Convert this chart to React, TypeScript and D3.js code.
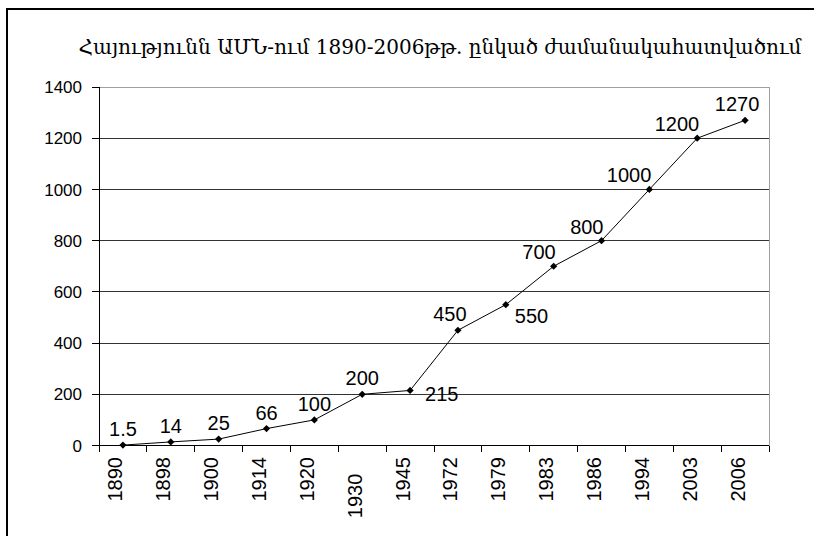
import React from "react";
import * as d3 from "d3";

const title = "Հայությունն ԱՄՆ-ում 1890-2006թթ. ընկած ժամանակահատվածում";
const categories = ["1890", "1898", "1900", "1914", "1920", "1930   ", "1945", "1972", "1979", "1983", "1986", "1994", "2003", "2006"];
const values = [1.5, 14, 25, 66, 100, 200, 215, 450, 550, 700, 800, 1000, 1200, 1270];
const yTicks = [0, 200, 400, 600, 800, 1000, 1200, 1400];
const labelPlacement = ["top", "top", "top", "top", "top", "top", "right", "topLeft", "bottomRight", "left", "left", "left", "left", "topLeft"];

const W = 814;
const H = 536;
const plot = { left: 99, right: 769, top: 87, bottom: 445.5 };

const placements: Record<string, { anchor: string; dx: number; dy: number }> = {
  top: { anchor: "middle", dx: 0, dy: -9 },
  topLeft: { anchor: "middle", dx: -8, dy: -9 },
  left: { anchor: "end", dx: 2, dy: -7 },
  right: { anchor: "start", dx: 15, dy: 11 },
  bottomRight: { anchor: "start", dx: 9, dy: 18 },
};

const NUM_FONT = "'Liberation Sans', Arial, sans-serif";

export default function App() {
  const x = d3.scaleBand<string>().domain(categories).range([plot.left, plot.right]).padding(0);
  const y = d3.scaleLinear().domain([0, 1400]).range([plot.bottom, plot.top]);
  const cx = (i: number) => (x(categories[i]) as number) + x.bandwidth() / 2;

  const line = d3
    .line<number>()
    .x((_, i) => cx(i))
    .y((d) => y(d));

  const diamond = d3.symbol().type(d3.symbolSquare).size(26)();

  const boundaries = d3.range(categories.length + 1).map((i) =>
    i < categories.length ? (x(categories[i]) as number) : plot.right
  );

  return (
    <svg
      width={W}
      height={H}
      style={{ position: "absolute", left: 0, top: 0, display: "block", background: "#fff" }}
    >
      <rect x={0} y={0} width={W} height={H} fill="#fff" />
      {/* outer frame */}
      <rect x={7} y={9} width={W + 20} height={H + 20} fill="none" stroke="#000" strokeWidth={2} />

      {/* title */}
      <text
        x={440}
        y={54}
        textAnchor="middle"
        fontFamily="'DejaVu Serif', 'DejaVu Sans', serif"
        fontSize={20}
        fill="#000"
      >
        {title}
      </text>

      {/* gridlines */}
      {yTicks.map((t) =>
        t === 0 ? null : (
          <line
            key={t}
            x1={plot.left}
            x2={plot.right}
            y1={y(t)}
            y2={y(t)}
            stroke={t === 1400 ? "#a0a0a0" : "#333"}
            strokeWidth={1}
            shapeRendering="crispEdges"
          />
        )
      )}
      {/* right plot border */}
      <line x1={plot.right} x2={plot.right} y1={plot.top} y2={plot.bottom} stroke="#a0a0a0" strokeWidth={1} shapeRendering="crispEdges" />

      {/* y axis */}
      <line x1={plot.left} x2={plot.left} y1={plot.top} y2={plot.bottom} stroke="#000" strokeWidth={1} shapeRendering="crispEdges" />
      {yTicks.map((t) => (
        <g key={t}>
          <line x1={plot.left - 7} x2={plot.left} y1={y(t)} y2={y(t)} stroke="#000" strokeWidth={1} shapeRendering="crispEdges" />
          <text x={82} y={y(t)} dy="0.36em" textAnchor="end" fontFamily={NUM_FONT} fontSize={17} fill="#000">
            {t}
          </text>
        </g>
      ))}

      {/* x axis */}
      <line x1={plot.left - 7} x2={plot.right} y1={plot.bottom} y2={plot.bottom} stroke="#000" strokeWidth={1} shapeRendering="crispEdges" />
      {boundaries.map((b, i) => (
        <line key={i} x1={b} x2={b} y1={plot.bottom} y2={plot.bottom + 6} stroke="#000" strokeWidth={1} shapeRendering="crispEdges" />
      ))}
      {categories.map((c, i) => (
        <text
          key={c}
          transform={`translate(${cx(i) - 0.5},457) rotate(-90)`}
          textAnchor="end"
          fontFamily={NUM_FONT}
          fontSize={20}
          fill="#000"
          style={{ whiteSpace: "pre" }}
          xmlSpace="preserve"
        >
          {c}
        </text>
      ))}

      {/* series line */}
      <path d={line(values) as string} fill="none" stroke="#000" strokeWidth={1} />
      {values.map((v, i) => (
        <path key={i} d={diamond as string} transform={`translate(${cx(i)},${y(v)}) rotate(45)`} fill="#000" />
      ))}

      {/* data labels */}
      {values.map((v, i) => {
        const p = placements[labelPlacement[i]];
        return (
          <text
            key={i}
            x={cx(i) + p.dx}
            y={y(v) + p.dy}
            textAnchor={p.anchor}
            fontFamily={NUM_FONT}
            fontSize={20}
            fill="#000"
          >
            {d3.format("")(v)}
          </text>
        );
      })}
    </svg>
  );
}
